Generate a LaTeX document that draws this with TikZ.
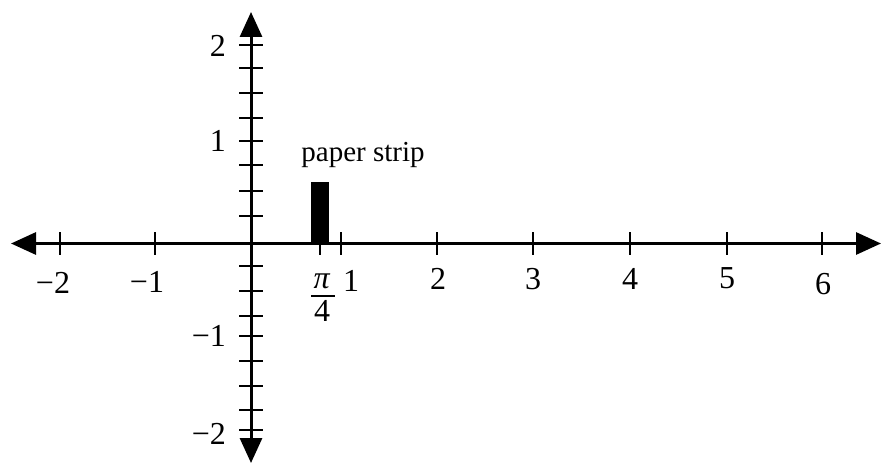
\documentclass[tikz,border=0pt]{standalone}
\usepackage{fontspec}
\setmainfont{Liberation Serif}
\usetikzlibrary{arrows.meta}
\tikzset{
  axis/.style={line width=3pt,{Triangle[length=25pt,width=22pt]}-{Triangle[length=25pt,width=22pt]}},
  tickmark/.style={line width=2.6pt},
  lbl/.style={inner sep=0pt,font=\fontsize{32}{34}\selectfont},
  captext/.style={inner sep=0pt,font=\fontsize{29}{31}\selectfont},
  strip/.style={fill=black,draw=none}
}
\begin{document}
\begin{tikzpicture}[x=1pt,y=-1pt]
\useasboundingbox (0,0) rectangle (882,465);
% axes
\coordinate (xl) at (11,243.5);
\coordinate (xr) at (881,243.5);
\coordinate (yt) at (251,12);
\coordinate (yb) at (251,463);
\draw[axis] (xl) -- (xr);
\draw[axis] (yt) -- (yb);
% x ticks
\foreach \x/\n in {60/m2,155/m1,320/pq,341/p1,437/p2,533/p3,630/p4,727/p5,822/p6}{
  \coordinate (xt\n a) at (\x,232);
  \coordinate (xt\n b) at (\x,255);
  \draw[tickmark] (xt\n a) -- (xt\n b);
}
% y ticks
\foreach \y/\n in {45/a,68/b,93/c,118/d,141/e,165/f,191/g,216/h,266/i,291/j,316/k,336/l,361/m,386/n,410/o,430/p}{
  \coordinate (yt\n a) at (239,\y);
  \coordinate (yt\n b) at (263,\y);
  \draw[tickmark] (yt\n a) -- (yt\n b);
}
% x labels
\node[lbl] (lxm2) at (62,283) {\llap{−}2};
\node[lbl] (lxm1) at (156,282) {\llap{−}1};
\node[lbl] (lx1) at (351,281) {1};
\node[lbl] (lx2) at (438,279) {2};
\node[lbl] (lx3) at (533,279) {3};
\node[lbl] (lx4) at (630,279) {4};
\node[lbl] (lx5) at (727,278) {5};
\node[lbl] (lx6) at (823,284) {6};
% pi/4
\node[lbl] (lpi) at (322,281) {\textit{π}};
\coordinate (fl) at (311,296);
\coordinate (fr) at (335,296);
\draw[line width=2pt] (fl) -- (fr);
\node[lbl] (lfour) at (322,311) {4};
% y labels
\node[lbl,anchor=east] (ly2) at (226,46) {2};
\node[lbl,anchor=east] (ly1) at (226,141) {1};
\node[lbl,anchor=east] (lym1) at (226,336) {−1};
\node[lbl,anchor=east] (lym2) at (226,434) {−2};
% paper strip
\fill[strip] (311,182) rectangle (329,244);
\node[captext] (ps) at (363,155) {paper strip};
\end{tikzpicture}
\end{document}
